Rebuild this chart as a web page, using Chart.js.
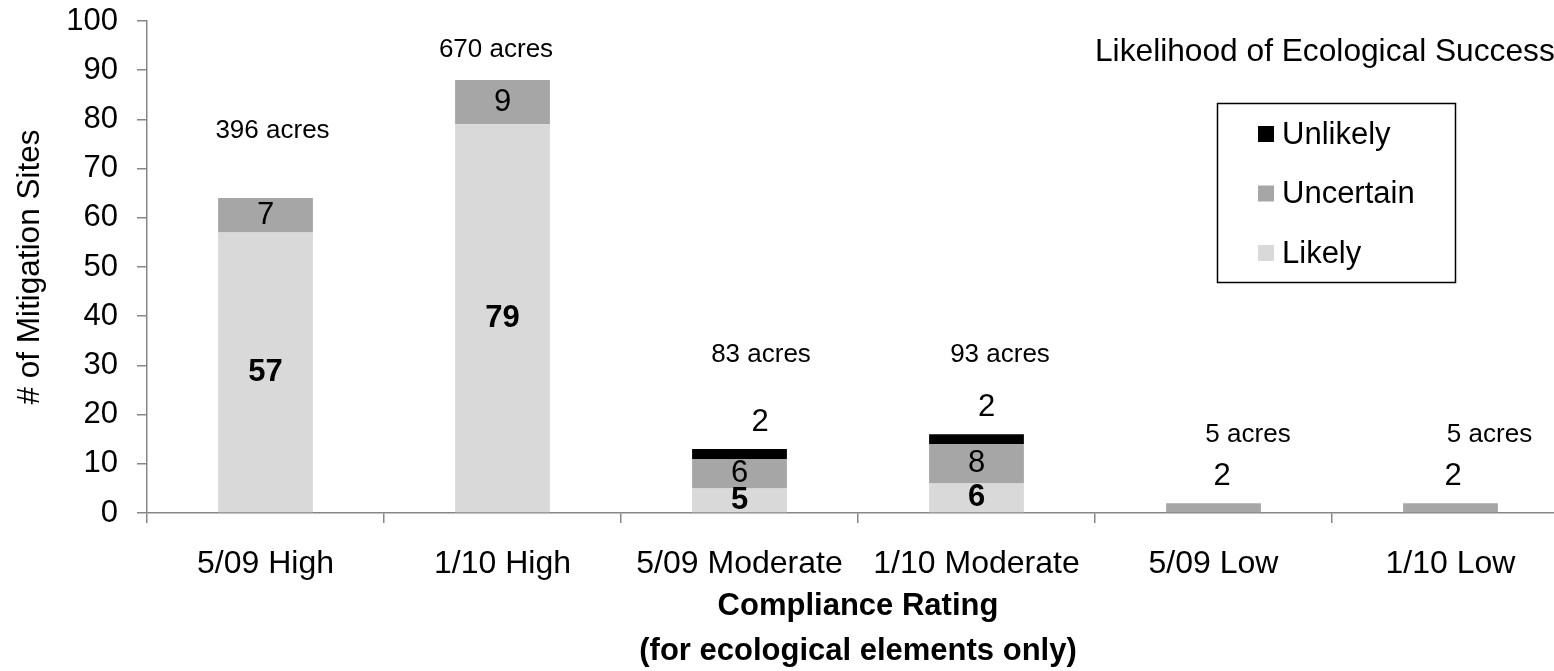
<!DOCTYPE html>
<html>
<head>
<meta charset="utf-8">
<script src="https://cdn.jsdelivr.net/npm/chart.js@4"></script>
<style>
  html, body { margin: 0; padding: 0; background: #ffffff; overflow: hidden; }
  #wrap { width: 1569px; height: 671px; }
</style>
</head>
<body>
<div id="wrap"><canvas id="c" width="1569" height="671"></canvas></div>
<script>
// ---- data ----
const categories = ['5/09 High', '1/10 High', '5/09 Moderate', '1/10 Moderate', '5/09 Low', '1/10 Low'];
const likely    = [57, 79, 5, 6, 0, 0];
const uncertain = [7, 9, 6, 8, 2, 2];
const unlikely  = [0, 0, 2, 2, 0, 0];
const acres     = [396, 670, 83, 93, 5, 5];
const yTicks    = [0, 10, 20, 30, 40, 50, 60, 70, 80, 90, 100];
const seriesNames = ['Likely', 'Uncertain', 'Unlikely'];
const legendTitle = 'Likelihood of Ecological Success';
const yTitle = '# of Mitigation Sites';
const xTitle = ['Compliance Rating', '(for ecological elements only)'];

// ---- styles ----
const FONT = '"Liberation Sans", Arial, Helvetica, sans-serif';
const colors = ['#d9d9d9', '#a6a6a6', '#000000'];
const axisColor = '#878787';
// annotation placement (style only): horizontal nudge in px, vertical anchor in axis units
const acresPlacement = [
  {dx: 7, at: 77.6}, {dx: -6.5, at: 94.1}, {dx: 21.5, at: 32.1},
  {dx: 23.5, at: 32.1}, {dx: 34.5, at: 15.9}, {dx: 39, at: 15.9}
];
const aboveLabelDx = [0, 0, 20.5, 10, 8.5, 2.5];

const labelPlugin = {
  id: 'valueLabels',
  afterDatasetsDraw(chart) {
    const ctx = chart.ctx;
    const ys = chart.scales.y, xs = chart.scales.x;
    ctx.save();
    ctx.textAlign = 'center';
    ctx.textBaseline = 'middle';
    ctx.fillStyle = '#000';
    chart.data.datasets.forEach((ds, di) => {
      const meta = chart.getDatasetMeta(di);
      meta.data.forEach((bar, i) => {
        const v = ds.data[i];
        if (!v) return;
        const h = Math.abs(bar.base - bar.y);
        ctx.font = (di === 0 ? 'bold ' : '') + '31px ' + FONT;
        if (h >= 20) {
          ctx.fillText(String(v), bar.x, (bar.y + bar.base) / 2);
        } else {
          let total = 0;
          chart.data.datasets.forEach(d => { total += d.data[i]; });
          const topY = ys.getPixelForValue(total);
          ctx.fillText(String(v), bar.x + aboveLabelDx[i], topY - 27);
        }
      });
    });
    // acres annotations
    ctx.font = '26px ' + FONT;
    acres.forEach((a, i) => {
      const x = xs.getPixelForValue(i) + acresPlacement[i].dx;
      const y = ys.getPixelForValue(acresPlacement[i].at);
      ctx.fillText(a + ' acres', x, y);
    });
    ctx.restore();
  },
  afterDraw(chart) {
    const ctx = chart.ctx;
    ctx.save();
    // legend title
    ctx.font = '31.7px ' + FONT;
    ctx.fillStyle = '#000';
    ctx.textAlign = 'left';
    ctx.textBaseline = 'middle';
    ctx.fillText(legendTitle, 1095, 52);
    // legend box
    ctx.font = '31px ' + FONT;
    ctx.strokeStyle = '#000';
    ctx.lineWidth = 1.5;
    ctx.strokeRect(1217.5, 103.5, 238, 179);
    const ds = chart.data.datasets.slice().reverse();
    ds.forEach((d, k) => {
      const cy = 134 + k * 59.5;
      ctx.fillStyle = d.backgroundColor;
      ctx.fillRect(1258, cy - 8, 16, 16);
      ctx.fillStyle = '#000';
      ctx.fillText(d.label, 1282, cy + 1);
    });
    ctx.restore();
  }
};

new Chart(document.getElementById('c'), {
  type: 'bar',
  data: {
    labels: categories,
    datasets: [
      { label: seriesNames[0], data: likely, backgroundColor: colors[0] },
      { label: seriesNames[1], data: uncertain, backgroundColor: colors[1] },
      { label: seriesNames[2], data: unlikely, backgroundColor: colors[2] }
    ].map(d => Object.assign(d, { barPercentage: 0.4, categoryPercentage: 1.0, borderWidth: 0 }))
  },
  options: {
    responsive: false,
    animation: false,
    devicePixelRatio: 1,
    layout: { padding: { top: 21, right: 0, bottom: 0, left: 0 } },
    plugins: { legend: { display: false }, tooltip: { enabled: false } },
    scales: {
      x: {
        stacked: true,
        grid: { display: true, drawOnChartArea: false, drawTicks: true, tickLength: 10, color: axisColor, lineWidth: 1.5, offset: true },
        border: { display: true, color: axisColor, width: 1.5 },
        ticks: { color: '#000', font: { family: FONT, size: 32 }, padding: 22, maxRotation: 0, autoSkip: false },
        title: { display: true, text: xTitle, color: '#000', font: { family: FONT, size: 31, weight: 'bold', lineHeight: 1.45 }, padding: { top: 0, bottom: -3 } },
        afterFit(s) { s.height = 158; s.paddingLeft = 0; s.paddingRight = 0; }
      },
      y: {
        stacked: true,
        min: 0, max: 100,
        afterBuildTicks(s) { s.ticks = yTicks.map(v => ({ value: v })); },
        grid: { display: true, drawOnChartArea: false, drawTicks: true, tickLength: 10, color: axisColor, lineWidth: 1.5 },
        border: { display: true, color: axisColor, width: 1.5 },
        ticks: { color: '#000', font: { family: FONT, size: 31 }, padding: 19 },
        title: { display: true, text: yTitle, color: '#000', font: { family: FONT, size: 31.5 }, padding: { top: 11.4, bottom: 0 } },
        afterFit(s) { s.width = 147; s.paddingTop = 0; s.paddingBottom = 0; }
      }
    }
  },
  plugins: [labelPlugin]
});
</script>
</body>
</html>
